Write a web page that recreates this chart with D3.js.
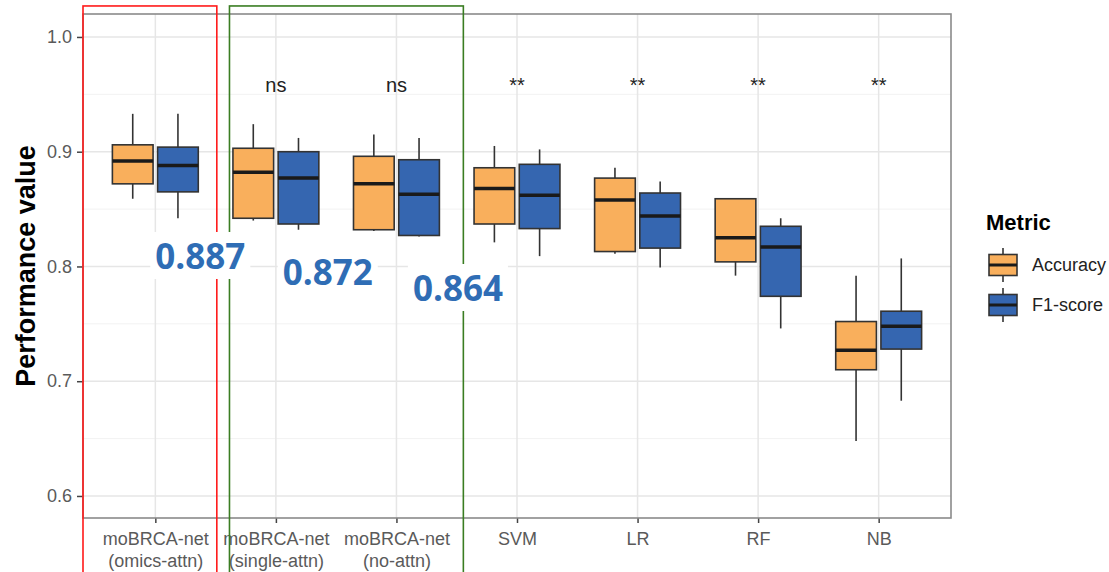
<!DOCTYPE html>
<html>
<head>
<meta charset="utf-8">
<script src="https://cdn.jsdelivr.net/npm/d3@7"></script>
<style>
  body { margin: 0; background: #fff; }
  svg { display: block; font-family: "Liberation Sans", Arial, sans-serif; }
</style>
</head>
<body>
<svg width="1109" height="572"></svg>
<script>
// categories on the x axis and their (two line) tick labels
var categories = ["omics-attn", "single-attn", "no-attn", "SVM", "LR", "RF", "NB"];
var categoryLabels = [
  ["moBRCA-net", "(omics-attn)"],
  ["moBRCA-net", "(single-attn)"],
  ["moBRCA-net", "(no-attn)"],
  ["SVM"], ["LR"], ["RF"], ["NB"]
];
var metrics = ["Accuracy", "F1-score"];

// box stats: [low whisker, q1, median, q3, high whisker]
var accuracy = [
  [0.859, 0.872, 0.892, 0.906, 0.933],
  [0.840, 0.842, 0.882, 0.903, 0.924],
  [0.831, 0.832, 0.872, 0.896, 0.915],
  [0.821, 0.837, 0.868, 0.886, 0.905],
  [0.811, 0.813, 0.858, 0.877, 0.886],
  [0.792, 0.804, 0.825, 0.859, 0.859],
  [0.648, 0.710, 0.727, 0.752, 0.792]
];
var f1score = [
  [0.842, 0.865, 0.888, 0.904, 0.933],
  [0.832, 0.837, 0.877, 0.900, 0.912],
  [0.826, 0.827, 0.863, 0.893, 0.912],
  [0.809, 0.833, 0.862, 0.889, 0.902],
  [0.799, 0.816, 0.844, 0.864, 0.874],
  [0.746, 0.774, 0.817, 0.835, 0.842],
  [0.683, 0.728, 0.748, 0.761, 0.807]
];

var significance = ["", "ns", "ns", "**", "**", "**", "**"];
var highlights = ["0.887", "0.872", "0.864"];
var yTicks = [0.6, 0.7, 0.8, 0.9, 1.0];
var yMinor = [0.65, 0.75, 0.85, 0.95];

var svg = d3.select("svg"),
  panel = {left: 83, top: 14, right: 951, bottom: 518};

var x = d3.scalePoint().domain(categories).range([panel.left, panel.right]).padding(0.6);
var step = x.step();
var dodge = d3.scaleBand().domain(metrics).range([-0.375 * step, 0.375 * step]);
var boxW = dodge.bandwidth() * 0.9;
var y = d3.scaleLinear().domain([0.5808, 1.020]).range([panel.bottom, panel.top]);
var color = d3.scaleOrdinal().domain(metrics).range(["#f9af5c", "#3566b0"]);

// grid
var grid = svg.append("g");
grid.selectAll(".minor").data(yMinor).enter().append("line")
  .attr("x1", panel.left).attr("x2", panel.right)
  .attr("y1", d => y(d)).attr("y2", d => y(d))
  .attr("stroke", "#f2f2f2").attr("stroke-width", 1);
grid.selectAll(".major").data(yTicks).enter().append("line")
  .attr("x1", panel.left).attr("x2", panel.right)
  .attr("y1", d => y(d)).attr("y2", d => y(d))
  .attr("stroke", "#e6e6e6").attr("stroke-width", 1.5);
grid.selectAll(".vmajor").data(categories).enter().append("line")
  .attr("x1", d => x(d)).attr("x2", d => x(d))
  .attr("y1", panel.top).attr("y2", panel.bottom)
  .attr("stroke", "#e6e6e6").attr("stroke-width", 1.5);

// axes
var yAxis = svg.append("g")
  .attr("transform", "translate(" + panel.left + ",0)")
  .call(d3.axisLeft(y).tickValues(yTicks).tickFormat(d3.format(".1f")).tickSize(6).tickPadding(5));
yAxis.select(".domain").remove();
yAxis.selectAll("line").attr("stroke", "#444").attr("stroke-width", 1.5);
yAxis.selectAll("text").attr("fill", "#5a5a5a").style("font-size", "18px");

var xAxis = svg.append("g")
  .attr("transform", "translate(0," + panel.bottom + ")")
  .call(d3.axisBottom(x).tickSize(5).tickFormat(""));
xAxis.select(".domain").remove();
xAxis.selectAll("line").attr("stroke", "#444").attr("stroke-width", 1.5);
xAxis.selectAll(".tick").each(function(d, i) {
  var t = d3.select(this).append("text")
    .attr("fill", "#5a5a5a").attr("text-anchor", "middle").style("font-size", "18px");
  categoryLabels[i].forEach(function(line, j) {
    t.append("tspan").attr("x", 0).attr("y", 27 + j * 22).text(line);
  });
});

// boxes
var rows = [];
categories.forEach(function(c, i) {
  metrics.forEach(function(m) {
    rows.push({cat: c, metric: m, s: (m === "Accuracy" ? accuracy : f1score)[i]});
  });
});
var boxes = svg.append("g").selectAll("g").data(rows).enter().append("g")
  .attr("transform", d => "translate(" + (x(d.cat) + dodge(d.metric) + dodge.bandwidth() / 2) + ",0)");
boxes.append("line")
  .attr("y1", d => y(d.s[0])).attr("y2", d => y(d.s[4]))
  .attr("stroke", "#333").attr("stroke-width", 1.6);
boxes.append("rect")
  .attr("x", -boxW / 2).attr("width", boxW)
  .attr("y", d => y(d.s[3])).attr("height", d => y(d.s[1]) - y(d.s[3]))
  .attr("fill", d => color(d.metric)).attr("stroke", "#333").attr("stroke-width", 1.6);
boxes.append("line")
  .attr("x1", -boxW / 2).attr("x2", boxW / 2)
  .attr("y1", d => y(d.s[2])).attr("y2", d => y(d.s[2]))
  .attr("stroke", "#1a1a1a").attr("stroke-width", 3.5);

// panel border
svg.append("rect")
  .attr("x", panel.left).attr("y", panel.top)
  .attr("width", panel.right - panel.left).attr("height", panel.bottom - panel.top)
  .attr("fill", "none").attr("stroke", "#8a8a8a").attr("stroke-width", 1.6);

// significance labels
svg.append("g").selectAll("text").data(significance).enter().append("text")
  .attr("x", (d, i) => x(categories[i])).attr("y", y(0.952))
  .attr("text-anchor", "middle").style("font-size", "20px").attr("fill", "#222")
  .text(d => d);

// y title
svg.append("text")
  .attr("transform", "translate(35," + ((panel.top + panel.bottom) / 2) + ") rotate(-90)")
  .attr("text-anchor", "middle").style("font-size", "27px").style("font-weight", "bold")
  .text("Performance value");

// legend
var legend = svg.append("g").attr("transform", "translate(986,0)");
legend.append("text").attr("y", 230).style("font-size", "22px").style("font-weight", "bold").text("Metric");
metrics.forEach(function(m, i) {
  var cy = 265 + i * 40;
  var k = legend.append("g").attr("transform", "translate(17," + cy + ")");
  k.append("line").attr("y1", -17).attr("y2", 17).attr("stroke", "#333").attr("stroke-width", 1.6);
  k.append("rect").attr("x", -14).attr("y", -10.5).attr("width", 28).attr("height", 21)
    .attr("fill", color(m)).attr("stroke", "#333").attr("stroke-width", 1.6);
  k.append("line").attr("x1", -14).attr("x2", 14).attr("stroke", "#1a1a1a").attr("stroke-width", 3);
  legend.append("text").attr("x", 46).attr("y", cy).attr("dy", "0.35em")
    .style("font-size", "18px").attr("fill", "#222").text(m);
});

// red and green outline frames
svg.append("rect")
  .attr("x", x(categories[0]) - 0.6 * step).attr("y", y(1.027))
  .attr("width", 1.11 * step).attr("height", y(0.47) - y(1.027))
  .attr("fill", "none").attr("stroke", "#ff1a1a").attr("stroke-width", 1.6);
svg.append("rect")
  .attr("x", x(categories[1]) - 0.385 * step).attr("y", y(1.027))
  .attr("width", x(categories[2]) - x(categories[1]) + 0.94 * step).attr("height", y(0.47) - y(1.027))
  .attr("fill", "none").attr("stroke", "#3a7d22").attr("stroke-width", 1.6);

// highlighted scores with white boxes behind
var hx = [0.373, 0.43, 0.51], hy = [0.7978, 0.7839, 0.7699];
highlights.forEach(function(h, i) {
  var g = svg.append("g");
  var t = g.append("text")
    .attr("x", x(categories[i]) + hx[i] * step).attr("y", y(hy[i]))
    .attr("text-anchor", "middle")
    .style("font-family", "'Open Sans', sans-serif").style("font-weight", "700").style("font-size", "35px")
    .attr("fill", "#2f6db5").text(h);
  var bb = t.node().getBBox();
  g.insert("rect", "text")
    .attr("x", bb.x - 5).attr("y", bb.y).attr("width", bb.width + 10).attr("height", bb.height)
    .attr("fill", "#fff");
});
</script>
</body>
</html>
